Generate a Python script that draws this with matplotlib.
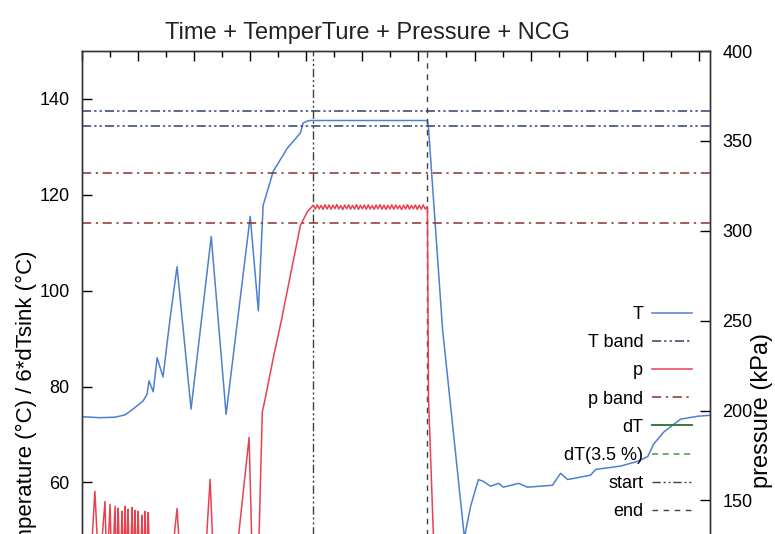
import numpy as np
import matplotlib
matplotlib.use('Agg')
import matplotlib.pyplot as plt
from matplotlib.lines import Line2D

plt.rcParams['font.family'] = ['Liberation Sans', 'DejaVu Sans']

# temperature T (°C) over time (s)
t_T = [0, 64, 118, 154, 182, 218, 232, 239, 254, 268, 289, 314, 339, 389, 461, 514, 600, 629, 646, 661,
       682, 732, 779, 789, 804, 814, 1232, 1236, 1286, 1364, 1386, 1414, 1432, 1457, 1486, 1503, 1557, 1589,
       1678, 1707, 1732, 1814, 1832, 1921, 1982, 2018, 2039, 2075, 2135, 2196, 2240]
T = [73.7, 73.5, 73.6, 74.1, 75.3, 77.0, 78.4, 81.2, 78.9, 86.0, 82.0, 94.1, 105.0, 75.3, 111.3, 74.2, 115.5,
     95.8, 117.8, 120.7, 124.9, 129.7, 132.9, 135.0, 135.4, 135.5, 135.5, 133.9, 92.0, 48.5, 55.0, 60.6, 60.2,
     59.2, 59.8, 59.0, 59.8, 59.0, 59.4, 61.9, 60.6, 61.5, 62.7, 63.4, 64.4, 65.4, 68.0, 70.5, 73.2, 73.8, 74.0]

# pressure p (kPa): heating phase
t_p_rise = [0, 29, 46, 61, 82, 89, 100, 107, 118, 123, 129, 136, 143, 148, 154, 159, 164, 171, 179, 184,
            189, 195, 200, 207, 214, 220, 225, 230, 236, 243, 314, 339, 354, 436, 457, 471, 550, 596, 607,
            629, 643, 654, 682, 711, 743, 779, 804, 818]
p_rise = [105, 110, 155, 108, 149.4, 108, 147.8, 108, 146.7, 108, 145.6, 108, 143.9, 108, 146.7, 108, 145.0,
          108, 146.1, 108, 144.4, 108, 143.9, 108, 141.7, 108, 143.9, 108, 143.3, 108, 108, 145.5, 108, 108,
          161.7, 108, 118, 185, 118, 115, 199, 207, 229, 250, 275, 303, 310.6, 313]
# plateau (sampled every 7 s from t=825)
p_plat = [314.2, 312.0, 314.4, 312.2, 314.1, 311.9, 314.5, 312.1, 314.3, 312.0,
          314.2, 312.3, 314.6, 312.1, 314.0, 311.8, 314.3, 312.2, 314.4, 312.0,
          314.1, 312.1, 314.5, 311.9, 314.2, 312.2, 314.3, 312.0, 314.4, 312.1,
          314.0, 311.9, 314.3, 312.2, 314.5, 312.0, 314.2, 311.9, 314.1, 312.1,
          314.4, 312.0, 314.3, 312.2, 314.0, 311.8, 314.2, 312.1, 314.5, 312.0,
          314.1, 312.2, 314.3, 311.9, 314.2, 312.0, 314.4, 312.1]
t_p_drop = [1232, 1236, 1254, 1290, 2240]
p_drop = [313.5, 206.7, 128, 100, 100]

T_band = [137.5, 134.3]
p_band = [332.2, 304.4]
t_start = 825
t_end = 1232

t_plat = 825 + 7 * np.arange(len(p_plat))
t_p = np.concatenate([t_p_rise, t_plat, t_p_drop])
p = np.concatenate([p_rise, p_plat, p_drop])

c_T = '#4f7fd0'
c_Tb = '#2f3f6f'
c_p = '#e8424f'
c_pb = '#8a3030'
c_dT = '#3a7a3a'
c_dT2 = '#4a9a4a'
c_se = '#404040'

fig = plt.figure(figsize=(7.75, 5.34), dpi=100)
ax = fig.add_axes([82 / 775, (534 - 770) / 534, 628 / 775, 719 / 534])
ax2 = ax.twinx()

ax.plot(t_T, T, color=c_T, lw=1.1)
for v in T_band:
    ax.axhline(v, color=c_Tb, lw=1.1, ls=(0, (6, 2, 1.5, 2, 1.5, 2)))
ax.axvline(t_start, color=c_se, lw=1.0, ls=(0, (6, 2, 1.5, 2, 1.5, 2)))
ax.axvline(t_end, color=c_se, lw=1.0, ls=(0, (4, 4)))

ax2.plot(t_p, p, color=c_p, lw=1.1)
for v in p_band:
    ax2.axhline(v, color=c_pb, lw=1.1, ls=(0, (6, 3, 1.5, 3)))

ax.set_xlim(0, 2240)
ax.set_ylim(0, 150)
ax2.set_ylim(0, 400)
ax.set_xticks(np.arange(0, 2241, 200))
ax.set_xticks(np.arange(100, 2241, 200), minor=True)
# only the ticks that fall inside the visible part of the page
ax.set_yticks(np.arange(60, 141, 20))
ax2.set_yticks(np.arange(150, 401, 50))

ax.tick_params(axis='x', which='major', direction='in', top=True, length=7, width=1, labelbottom=False)
ax.tick_params(axis='x', which='minor', direction='in', top=True, length=4, width=1)
ax.tick_params(axis='y', direction='in', length=7, width=1, labelsize=13, pad=9)
ax2.tick_params(axis='y', direction='in', length=7, width=1, labelsize=13, pad=9)
for a in (ax, ax2):
    for s in a.spines.values():
        s.set_linewidth(1.0)
        s.set_color('#333333')

ax.set_ylabel('Temperature (°C) / 6*dTsink (°C)', fontsize=16)
ax.yaxis.set_label_coords(-0.072, 0.5)
ax2.set_ylabel('pressure (kPa)', fontsize=17)
ax2.yaxis.set_label_coords(1.066, 0.5)

fig.text(367 / 775, 1 - 33 / 534, 'Time + TemperTure + Pressure + NCG', ha='center', va='center',
         fontsize=17, color='#222222')

handles = [
    Line2D([], [], color=c_T, lw=1.1),
    Line2D([], [], color=c_Tb, lw=1.1, ls=(0, (6, 2, 1.5, 2, 1.5, 2))),
    Line2D([], [], color=c_p, lw=1.1),
    Line2D([], [], color=c_pb, lw=1.1, ls=(0, (6, 3, 1.5, 3))),
    Line2D([], [], color=c_dT, lw=1.4),
    Line2D([], [], color=c_dT2, lw=1.1, ls=(0, (4, 3))),
    Line2D([], [], color=c_se, lw=1.0, ls=(0, (6, 2, 1.5, 2, 1.5, 2))),
    Line2D([], [], color=c_se, lw=1.0, ls=(0, (4, 4))),
]
labels = ['T', 'T band', 'p', 'p band', 'dT', 'dT(3.5 %)', 'start', 'end']
ax2.legend(handles, labels, loc='upper right', bbox_to_anchor=(692 / 775, 1 - 306 / 534),
           bbox_transform=fig.transFigure, frameon=False, markerfirst=False, fontsize=13,
           handlelength=2.2, handletextpad=0.5, labelspacing=0.62, borderpad=0, borderaxespad=0)

fig.savefig('out.png', dpi=100)
